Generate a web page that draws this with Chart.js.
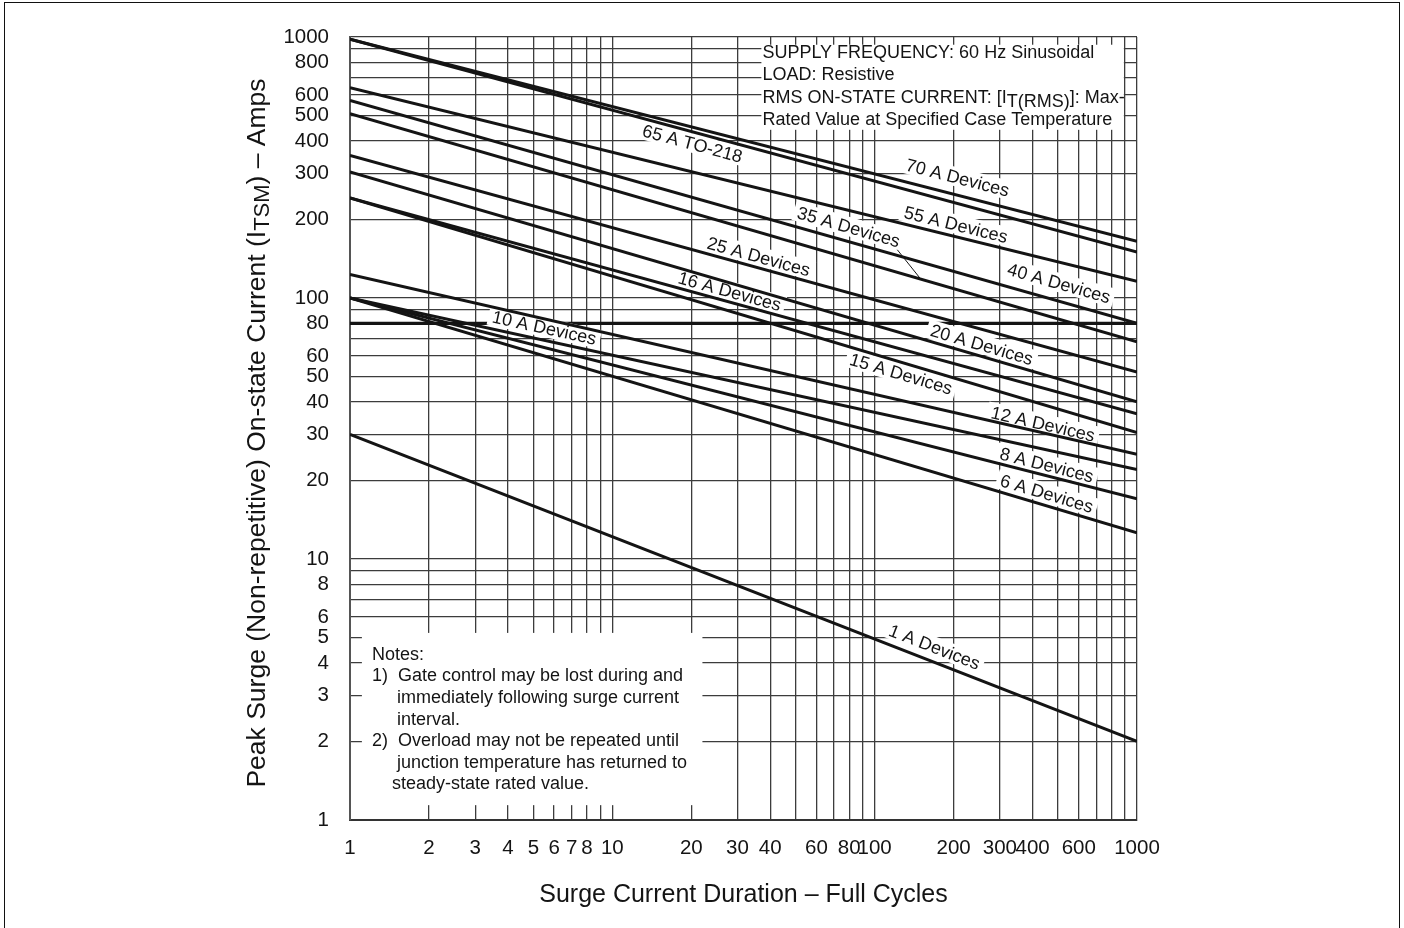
<!DOCTYPE html>
<html>
<head>
<meta charset="utf-8">
<title>Surge current ratings</title>
<script src="https://cdn.jsdelivr.net/npm/chart.js@4.4.1/dist/chart.umd.min.js"></script>
<style>
  html, body { margin: 0; padding: 0; background: #fff; }
  #wrap { position: relative; width: 1404px; height: 928px; overflow: hidden; }
  #frame { position: absolute; left: 4px; top: 2px; width: 1396px; height: 960px; border: 1px solid #111; box-sizing: border-box; pointer-events: none; }
  canvas { position: absolute; left: 0; top: 0; }
</style>
</head>
<body>
<div id="wrap">
  <canvas id="surgeChart" width="1404" height="928"></canvas>
  <div id="frame"></div>
</div>
<script>
// surge duration endpoints (full cycles) and peak current at each end (amps)
const durationCycles = [1, 1000];
const curve70A = [980, 165];
const curve65A = [980, 150];
const curve55A = [640, 116];
const curve40A = [572, 80];
const curve35A = [508, 68];
const curve25A = [352, 52];
const curve20A = [304, 40];
const curve16A = [242, 36];
const curve15A = [242, 30.5];
const curve12A = [123, 25.2];
const curve10A = [100, 22];
const curve8A = [100, 17];
const curve6A = [100, 12.6];
const curve1A = [30, 2];
const limit80A = [80, 80];

const seriesNames = ['70 A Devices', '65 A TO-218', '55 A Devices', '40 A Devices', '35 A Devices',
  '25 A Devices', '20 A Devices', '16 A Devices', '15 A Devices', '12 A Devices',
  '10 A Devices', '8 A Devices', '6 A Devices', '1 A Devices'];
const seriesValues = [curve70A, curve65A, curve55A, curve40A, curve35A, curve25A, curve20A,
  curve16A, curve15A, curve12A, curve10A, curve8A, curve6A, curve1A];

// grid lines and the labels printed under / beside them
const xGridValues = [1, 2, 3, 4, 5, 6, 7, 8, 9, 10, 20, 30, 40, 50, 60, 70, 80, 90, 100,
  200, 300, 400, 500, 600, 700, 800, 900, 1000];
const xTickLabels = [1, 2, 3, 4, 5, 6, 7, 8, 10, 20, 30, 40, 60, 80, 100, 200, 300, 400, 600, 1000];
const yGridValues = [1, 2, 3, 4, 5, 6, 7, 8, 9, 10, 20, 30, 40, 50, 60, 70, 80, 90, 100,
  200, 300, 400, 500, 600, 700, 800, 900, 1000];
const yTickLabels = [1, 2, 3, 4, 5, 6, 8, 10, 20, 30, 40, 50, 60, 80, 100, 200, 300, 400, 500, 600, 800, 1000];

// where each curve name sits (centre, in cycles / amps)
const curveLabels = [
  { series: 0, x: 207, y: 289 },
  { series: 1, x: 20.2, y: 390 },
  { series: 2, x: 204, y: 191 },
  { series: 3, x: 504, y: 114 },
  { series: 4, x: 79.6, y: 187 },
  { series: 5, x: 36.1, y: 144 },
  { series: 6, x: 256, y: 66.2 },
  { series: 7, x: 28.0, y: 106 },
  { series: 8, x: 126, y: 51.2 },
  { series: 9, x: 438, y: 32.9 },
  { series: 10, x: 5.5, y: 76.9 },
  { series: 11, x: 453, y: 22.9 },
  { series: 12, x: 453, y: 17.8 },
  { series: 13, x: 169, y: 4.6 }
];
const leader35A = [{ x: 122, y: 153 }, { x: 150, y: 118 }];

const conditionLines = ['SUPPLY FREQUENCY: 60 Hz Sinusoidal', 'LOAD: Resistive',
  ['RMS ON-STATE CURRENT: [I', 'T(RMS)', ']: Max-'], 'Rated Value at Specified Case Temperature'];
const noteLines = [
  ['Notes:', 0], ['1)  Gate control may be lost during and', 0], ['immediately following surge current', 25],
  ['interval.', 25], ['2)  Overload may not be repeated until', 0], ['junction temperature has returned to', 25],
  ['steady-state rated value.', 20]
];
const conditionBox = { x0: 37, x1: 891, y0: 934, y1: 441 };
const notesBox = { x0: 1.11, x1: 22.05, y0: 5.21, y1: 1.14 };

const FONT = '"Liberation Sans", Arial, sans-serif';
const INK = '#141414';

const datasets = seriesValues.map((vals, i) => ({
  label: seriesNames[i],
  data: durationCycles.map((c, k) => ({ x: c, y: vals[k] })),
  showLine: true,
  borderColor: INK,
  borderWidth: 3,
  pointRadius: 0,
  tension: 0
}));
datasets.push({
  label: '80 A',
  data: durationCycles.map((c, k) => ({ x: c, y: limit80A[k] })),
  showLine: true,
  borderColor: INK,
  borderWidth: 3.2,
  pointRadius: 0,
  order: 1
});
const LIMIT_INDEX = datasets.length - 1;

function labelAngle(chart, s) {
  const xs = chart.scales.x, ys = chart.scales.y;
  const v = seriesValues[s];
  const x0 = xs.getPixelForValue(durationCycles[0]), x1 = xs.getPixelForValue(durationCycles[1]);
  const y0 = ys.getPixelForValue(v[0]), y1 = ys.getPixelForValue(v[1]);
  return Math.atan2(y1 - y0, x1 - x0);
}

const overlay = {
  id: 'overlay',
  beforeDatasetsDraw(chart) {
    const { ctx } = chart;
    const xs = chart.scales.x, ys = chart.scales.y;
    ctx.save();
    ctx.fillStyle = '#fff';
    [conditionBox, notesBox].forEach(b => {
      const l = xs.getPixelForValue(b.x0), r = xs.getPixelForValue(b.x1);
      const t = ys.getPixelForValue(b.y0), bt = ys.getPixelForValue(b.y1);
      ctx.fillRect(l, t, r - l, bt - t);
    });
    ctx.restore();
  },
  afterDatasetDraw(chart, args) {
    // label backgrounds cut the grid and the 80 A line, but not the curves
    if (args.index !== LIMIT_INDEX) return;
    const { ctx } = chart;
    const xs = chart.scales.x, ys = chart.scales.y;
    ctx.save();
    ctx.font = '18px ' + FONT;
    ctx.fillStyle = '#fff';
    curveLabels.forEach(lb => {
      const w = ctx.measureText(seriesNames[lb.series]).width + 8;
      ctx.save();
      ctx.translate(xs.getPixelForValue(lb.x), ys.getPixelForValue(lb.y));
      ctx.rotate(labelAngle(chart, lb.series));
      ctx.fillRect(-w / 2, -10, w, 19);
      ctx.restore();
    });
    ctx.restore();
  },
  afterDatasetsDraw(chart) {
    const { ctx } = chart;
    const xs = chart.scales.x, ys = chart.scales.y;
    ctx.save();
    ctx.fillStyle = INK;
    ctx.font = '18px ' + FONT;
    ctx.textAlign = 'center';
    ctx.textBaseline = 'middle';
    curveLabels.forEach(lb => {
      ctx.save();
      ctx.translate(xs.getPixelForValue(lb.x), ys.getPixelForValue(lb.y));
      ctx.rotate(labelAngle(chart, lb.series));
      ctx.fillText(seriesNames[lb.series], 0, 1);
      ctx.restore();
    });
    ctx.strokeStyle = INK;
    ctx.lineWidth = 1;
    ctx.beginPath();
    ctx.moveTo(xs.getPixelForValue(leader35A[0].x), ys.getPixelForValue(leader35A[0].y));
    ctx.lineTo(xs.getPixelForValue(leader35A[1].x), ys.getPixelForValue(leader35A[1].y));
    ctx.stroke();

    // test conditions box
    ctx.textAlign = 'left';
    const cl = xs.getPixelForValue(conditionBox.x0) + 1;
    const ct = ys.getPixelForValue(conditionBox.y0);
    conditionLines.forEach((line, i) => {
      const y = ct + 8 + i * 22.5;
      if (Array.isArray(line)) {
        let x = cl;
        ctx.fillText(line[0], x, y); x += ctx.measureText(line[0]).width;
        ctx.fillText(line[1], x, y + 4); x += ctx.measureText(line[1]).width;
        ctx.fillText(line[2], x, y);
      } else {
        ctx.fillText(line, cl, y);
      }
    });

    // notes box
    const nl = xs.getPixelForValue(notesBox.x0) + 10;
    const nt = ys.getPixelForValue(notesBox.y0);
    noteLines.forEach((n, i) => {
      ctx.fillText(n[0], nl + n[1], nt + 22 + i * 21.6);
    });
    ctx.restore();
  },
  afterDraw(chart) {
    const { ctx, chartArea } = chart;
    ctx.save();
    ctx.fillStyle = INK;
    ctx.textBaseline = 'middle';
    ctx.textAlign = 'center';
    ctx.font = '25px ' + FONT;
    ctx.fillText('Surge Current Duration \u2013 Full Cycles', (chartArea.left + chartArea.right) / 2, 895);

    // y title with subscript
    const p1 = 'Peak Surge (Non-repetitive) On-state Current (I', sub = 'TSM', p2 = ') \u2013 Amps';
    const big = '26.5px ' + FONT, small = '22px ' + FONT;
    ctx.font = big; const w1 = ctx.measureText(p1).width, w3 = ctx.measureText(p2).width;
    ctx.font = small; const w2 = ctx.measureText(sub).width;
    const total = w1 + w2 + w3;
    ctx.translate(258, 433);
    ctx.rotate(-Math.PI / 2);
    ctx.textAlign = 'left';
    let x = -total / 2;
    ctx.font = big; ctx.fillText(p1, x, 0); x += w1;
    ctx.font = small; ctx.fillText(sub, x, 5); x += w2;
    ctx.font = big; ctx.fillText(p2, x, 0);
    ctx.restore();
  }
};

const gridOpts = { color: '#3c3c3c', lineWidth: 1.3, drawTicks: false };

new Chart(document.getElementById('surgeChart'), {
  type: 'scatter',
  data: { datasets },
  options: {
    responsive: false,
    animation: false,
    events: [],
    layout: { padding: { left: 0, right: 267, top: 37, bottom: 0 } },
    plugins: { legend: { display: false }, tooltip: { enabled: false } },
    scales: {
      x: {
        type: 'logarithmic', min: 1, max: 1000,
        afterBuildTicks: s => { s.ticks = xGridValues.map(v => ({ value: v })); },
        afterFit: s => { s.height = 108; },
        grid: gridOpts,
        border: { display: true, color: '#333', width: 2 },
        ticks: {
          autoSkip: false, maxRotation: 0, minRotation: 0, padding: 16, color: INK,
          font: { family: FONT, size: 20.5 },
          callback: v => xTickLabels.includes(v) ? String(v) : ''
        }
      },
      y: {
        type: 'logarithmic', min: 1, max: 1000,
        afterBuildTicks: s => { s.ticks = yGridValues.map(v => ({ value: v })); },
        afterFit: s => { s.width = 350; },
        grid: gridOpts,
        border: { display: true, color: '#555', width: 2 },
        ticks: {
          autoSkip: false, padding: 21, color: INK,
          font: { family: FONT, size: 20.5 },
          callback: v => yTickLabels.includes(v) ? String(v) : ''
        }
      }
    }
  },
  plugins: [overlay]
});
</script>
</body>
</html>
